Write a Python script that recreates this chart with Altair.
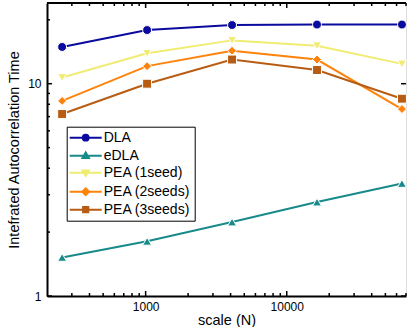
import altair as alt
import pandas as pd

# System size N for each run
scale_n = [256, 1024, 4096, 16384, 65536]

series_names = ["DLA", "eDLA", "PEA (1seed)", "PEA (2seeds)", "PEA (3seeds)"]
dla = [14.9, 17.9, 18.9, 19.0, 19.0]
edla = [1.52, 1.81, 2.23, 2.77, 3.39]
pea_1seed = [10.7, 13.9, 16.0, 15.1, 12.4]
pea_2seeds = [8.3, 12.1, 14.3, 13.0, 7.6]
pea_3seeds = [7.2, 10.0, 13.0, 11.6, 8.5]

series_colors = ["#0a0a9e", "#188a8a", "#f0ec72", "#ff820a", "#b85c14"]
marker_shapes = ["circle", "triangle-up", "triangle-down", "diamond", "square"]

# Legend glyphs: a short line segment with the marker in the middle
legend_glyphs = [
    "M-4,0H4M-0.72,0A0.72,0.72,0,1,1,0.72,0A0.72,0.72,0,1,1,-0.72,0Z",
    "M-4,0H4M0,-0.8L0.8,0.55L-0.8,0.55Z",
    "M-4,0H4M0,0.8L0.8,-0.55L-0.8,-0.55Z",
    "M-4,0H4M0,-0.85L0.85,0L0,0.85L-0.85,0Z",
    "M-4,0H4M-0.65,-0.65H0.65V0.65H-0.65Z",
]

# Axis ticks (drawn inward)
x_major = [1000, 10000]
x_minor = [300, 400, 500, 600, 700, 800, 900,
           2000, 3000, 4000, 5000, 6000, 7000, 8000, 9000,
           20000, 30000, 40000, 50000, 60000, 70000]
y_major = [1, 10]
y_minor = [2, 3, 4, 5, 6, 7, 8, 9, 20]

W, H = 359, 293

values = [dla, edla, pea_1seed, pea_2seeds, pea_3seeds]
rows = []
for name, ys in zip(series_names, values):
    for n, v in zip(scale_n, ys):
        rows.append({"N": n, "tau": v, "series": name})
df = pd.DataFrame(rows)

x_scale = alt.Scale(type="log", domain=[200, 70000])
y_scale = alt.Scale(type="log", domain=[1, 24])
color_scale = alt.Scale(domain=series_names, range=series_colors)

x_axis = alt.Axis(values=x_major, format="d", ticks=False, tickSize=0, grid=False,
                  labelFontSize=12, labelPadding=5, labelColor="black",
                  title="scale (N)", titleFontSize=14.5, titleFontWeight="normal",
                  titlePadding=1, titleColor="black",
                  domainColor="black", domainWidth=2)
y_axis = alt.Axis(values=y_major, format="d", ticks=False, tickSize=0, grid=False,
                  labelFontSize=12, labelPadding=6, labelColor="black",
                  title="Intefrated Autocorrelation Time", titleFontSize=14.5,
                  titleFontWeight="normal", titlePadding=6, titleColor="black",
                  domainColor="black", domainWidth=2)

lines = alt.Chart(df).mark_line(strokeWidth=2).encode(
    x=alt.X("N:Q", scale=x_scale, axis=x_axis),
    y=alt.Y("tau:Q", scale=y_scale, axis=y_axis),
    color=alt.Color("series:N", scale=color_scale, legend=None),
)

points = alt.Chart(df).mark_point(
    filled=True, size=80, opacity=1, stroke="white", strokeWidth=1
).encode(
    x=alt.X("N:Q", scale=x_scale, axis=x_axis),
    y=alt.Y("tau:Q", scale=y_scale, axis=y_axis),
    color=alt.Color("series:N", scale=color_scale, legend=None),
    shape=alt.Shape("series:N", scale=alt.Scale(domain=series_names, range=marker_shapes),
                    legend=None),
)

legend_def = alt.Legend(
    title=None, orient="none", legendX=19.7, legendY=123.7,
    labelFontSize=14, labelColor="black", labelOffset=11,
    symbolSize=64, symbolStrokeWidth=2, symbolOffset=8, symbolOpacity=1,
    rowPadding=3, padding=4,
    strokeColor="black", fillColor="white",
)

legend_layer = alt.Chart(df).transform_filter("false").mark_point(
    filled=True, opacity=1, strokeWidth=2
).encode(
    x=alt.X("N:Q", scale=x_scale, axis=x_axis),
    y=alt.Y("tau:Q", scale=y_scale, axis=y_axis),
    fill=alt.Fill("series:N", scale=color_scale, legend=legend_def),
    stroke=alt.Stroke("series:N", scale=color_scale, legend=legend_def),
    shape=alt.Shape("series:N", scale=alt.Scale(domain=series_names, range=legend_glyphs),
                    legend=legend_def),
)

tick_color = "black"

y_major_df = pd.DataFrame({"v": y_major})
y_minor_df = pd.DataFrame({"v": y_minor})
x_major_df = pd.DataFrame({"v": x_major})
x_minor_df = pd.DataFrame({"v": x_minor})


def yticks(data, length, side):
    x0 = 0 if side == "left" else W
    x1 = length if side == "left" else W - length
    return alt.Chart(data).mark_rule(color=tick_color, strokeWidth=1.5).encode(
        y=alt.Y("v:Q", scale=y_scale, axis=y_axis),
        x=alt.value(x0), x2=alt.value(x1),
    )


def xticks(data, length, side):
    y0 = H if side == "bottom" else 0
    y1 = H - length if side == "bottom" else length
    return alt.Chart(data).mark_rule(color=tick_color, strokeWidth=1.5).encode(
        x=alt.X("v:Q", scale=x_scale, axis=x_axis),
        y=alt.value(y0), y2=alt.value(y1),
    )


top_border = alt.Chart(pd.DataFrame({"a": [0]})).mark_rule(
    color="black", strokeWidth=2
).encode(x=alt.value(0), x2=alt.value(W), y=alt.value(0))

chart = alt.layer(
    lines, points, legend_layer,
    yticks(y_major_df, 5, "left"), yticks(y_minor_df, 3, "left"),
    yticks(y_major_df, 5, "right"),
    xticks(x_major_df, 5, "bottom"), xticks(x_minor_df, 3, "bottom"),
    xticks(x_major_df, 5, "top"), xticks(x_minor_df, 3, "top"),
    top_border,
).resolve_scale(
    shape="independent", fill="independent", stroke="independent"
).resolve_legend(
    shape="independent", fill="independent", stroke="independent"
).properties(
    width=W, height=H,
    padding={"left": 47, "top": 3, "right": 1, "bottom": 31},
    autosize=alt.AutoSizeParams(type="none"),
    background="white",
).configure_view(
    stroke=None
).configure(
    font="Liberation Sans"
)

chart.save("out.html", embed_options={"renderer": "svg", "actions": False})
